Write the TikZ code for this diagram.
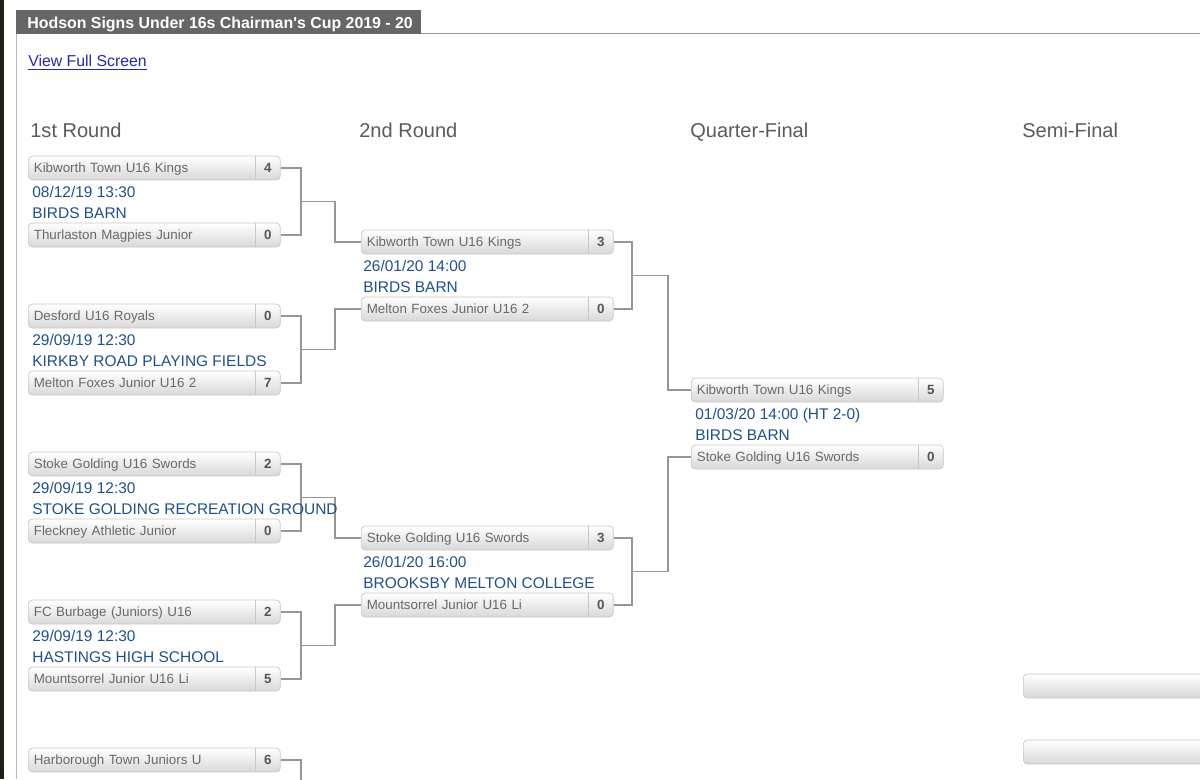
\documentclass[tikz,border=0pt]{standalone}
\usepackage{fontspec}
\setmainfont{Liberation Sans}
\usepackage{xcolor}
\usepackage{tikz}

\definecolor{boxline}{RGB}{200,200,200}
\definecolor{boxlow}{RGB}{216,216,216}
\definecolor{teamtxt}{RGB}{105,105,105}
\definecolor{scoretxt}{RGB}{85,85,85}
\definecolor{venue}{RGB}{30,80,135}
\definecolor{headtxt}{RGB}{90,90,90}
\definecolor{linkgray}{RGB}{150,150,150}
\definecolor{titlebg}{RGB}{102,102,102}
\definecolor{linkblue}{RGB}{40,40,160}
\definecolor{edgedark}{RGB}{28,32,22}
\definecolor{framegray}{RGB}{185,185,185}

\begin{document}
\begin{tikzpicture}[x=0.02cm, y=-0.02cm,
    team/.style={draw=boxline, rounded corners=0.08cm, top color=white, bottom color=boxlow,
      minimum height=0.48cm, text width=4.82cm, inner xsep=0.11cm, inner ysep=0pt,
      text height=5.5pt, text depth=0pt,
      anchor=west, align=left, text=teamtxt, font=\fontsize{7.6}{9}\selectfont,
      path picture={\draw[boxline] ([xshift=-0.5cm]path picture bounding box.north east)
        -- ([xshift=-0.5cm]path picture bounding box.south east);}},
    score/.style={anchor=east, minimum width=0.5cm, minimum height=0.48cm, inner sep=0pt,
      text height=5.5pt, text depth=0pt,
      text=scoretxt, font=\fontsize{7.6}{9}\selectfont\bfseries},
    info/.style={anchor=base west, inner sep=0pt, text=venue, font=\fontsize{8.8}{10}\selectfont},
    head/.style={anchor=base west, inner sep=0pt, text=headtxt, font=\fontsize{11.4}{13}\selectfont},
    link/.style={draw=linkgray, line width=0.6pt}]
    \useasboundingbox (0,0) rectangle (1200,779);
    \clip (0,0) rectangle (1200,779);

    % page frame and title
    \fill[edgedark] (0,0) rectangle (3.5,779);
    \draw[framegray, line width=0.5pt] (16,34) -- (16,779);
    \draw[linkgray, line width=0.6pt] (421,33.5) -- (1200,33.5);
    \fill[titlebg] (16,10) rectangle (421,34);
    \node[anchor=base west, inner sep=0pt, text=white, font=\fontsize{9.05}{11}\selectfont\bfseries] (title)
      at (27,28) {Hodson Signs Under 16s Chairman\textquotesingle s Cup 2019 - 20};
    \node[anchor=base west, inner sep=0pt, text=linkblue, font=\fontsize{9}{11}\selectfont] (fullscreen)
      at (28,66.5) {\underline{View Full Screen}};

    % round headings
    \node[head] (head1) at (30,137) {1st Round};
    \node[head] (head2) at (359,137) {2nd Round};
    \node[head] (head3) at (690,137) {Quarter-Final};
    \node[head] (head4) at (1022,137) {Semi-Final};

    % 1st round
    \node[team] (r1m1a) at (28,168) {Kibworth Town U16 Kings};
    \node[team] (r1m1b) at (28,235) {Thurlaston Magpies Junior};
    \node[team] (r1m2a) at (28,316) {Desford U16 Royals};
    \node[team] (r1m2b) at (28,383) {Melton Foxes Junior U16 2};
    \node[team] (r1m3a) at (28,464) {Stoke Golding U16 Swords};
    \node[team] (r1m3b) at (28,531) {Fleckney Athletic Junior};
    \node[team] (r1m4a) at (28,612) {FC Burbage (Juniors) U16};
    \node[team] (r1m4b) at (28,679) {Mountsorrel Junior U16 Li};
    \node[team] (r1m5a) at (28,760) {Harborough Town Juniors U};

    % 2nd round
    \node[team] (r2m1a) at (361,242) {Kibworth Town U16 Kings};
    \node[team] (r2m1b) at (361,309) {Melton Foxes Junior U16 2};
    \node[team] (r2m2a) at (361,538) {Stoke Golding U16 Swords};
    \node[team] (r2m2b) at (361,605) {Mountsorrel Junior U16 Li};

    % quarter-final and semi-final
    \node[team] (qfa) at (691,390) {Kibworth Town U16 Kings};
    \node[team] (qfb) at (691,457) {Stoke Golding U16 Swords};
    \node[team] (sfa) at (1023,686) {};
    \node[team] (sfb) at (1023,752) {};

    % scores
    \node[score] (r1m1as) at (r1m1a.east) {4};
    \node[score] (r1m1bs) at (r1m1b.east) {0};
    \node[score] (r1m2as) at (r1m2a.east) {0};
    \node[score] (r1m2bs) at (r1m2b.east) {7};
    \node[score] (r1m3as) at (r1m3a.east) {2};
    \node[score] (r1m3bs) at (r1m3b.east) {0};
    \node[score] (r1m4as) at (r1m4a.east) {2};
    \node[score] (r1m4bs) at (r1m4b.east) {5};
    \node[score] (r1m5as) at (r1m5a.east) {6};
    \node[score] (r2m1as) at (r2m1a.east) {3};
    \node[score] (r2m1bs) at (r2m1b.east) {0};
    \node[score] (r2m2as) at (r2m2a.east) {3};
    \node[score] (r2m2bs) at (r2m2b.east) {0};
    \node[score] (qfas) at (qfa.east) {5};
    \node[score] (qfbs) at (qfb.east) {0};

    % connectors
    \coordinate (j1) at (301,201.5);
    \coordinate (j2) at (301,349.5);
    \coordinate (j3) at (301,497.5);
    \coordinate (j4) at (301,645.5);
    \coordinate (j5) at (301,790);
    \coordinate (k1) at (632,275.5);
    \coordinate (k2) at (632,571.5);
    \begin{scope}[link]
    \draw (r1m1a.east) -| (j1) |- (r1m1b.east);
    \draw (r1m2a.east) -| (j2) |- (r1m2b.east);
    \draw (r1m3a.east) -| (j3) |- (r1m3b.east);
    \draw (r1m4a.east) -| (j4) |- (r1m4b.east);
    \draw (r1m5a.east) -| (j5);
    \draw (j1) -- ++(34,0) |- (r2m1a.west);
    \draw (j2) -- ++(34,0) |- (r2m1b.west);
    \draw (j3) -- ++(34,0) |- (r2m2a.west);
    \draw (j4) -- ++(34,0) |- (r2m2b.west);
    \draw (r2m1a.east) -| (k1) |- (r2m1b.east);
    \draw (r2m2a.east) -| (k2) |- (r2m2b.east);
    \draw (k1) -- ++(36,0) |- (qfa.west);
    \draw (k2) -- ++(36,0) |- (qfb.west);
    \end{scope}

    % dates and grounds
    \node[info] (r1m1d) at (32,197) {08/12/19 13:30};
    \node[info] (r1m1v) at (32,218) {BIRDS BARN};
    \node[info] (r1m2d) at (32,345) {29/09/19 12:30};
    \node[info] (r1m2v) at (32,366) {KIRKBY ROAD PLAYING FIELDS};
    \node[info] (r1m3d) at (32,493) {29/09/19 12:30};
    \node[info] (r1m3v) at (32,514) {STOKE GOLDING RECREATION GROUND};
    \node[info] (r1m4d) at (32,641) {29/09/19 12:30};
    \node[info] (r1m4v) at (32,662) {HASTINGS HIGH SCHOOL};
    \node[info] (r2m1d) at (363,271) {26/01/20 14:00};
    \node[info] (r2m1v) at (363,292) {BIRDS BARN};
    \node[info] (r2m2d) at (363,567) {26/01/20 16:00};
    \node[info] (r2m2v) at (363,588) {BROOKSBY MELTON COLLEGE};
    \node[info] (qfd) at (695,419) {01/03/20 14:00 (HT 2-0)};
    \node[info] (qfv) at (695,440) {BIRDS BARN};
\end{tikzpicture}
\end{document}
